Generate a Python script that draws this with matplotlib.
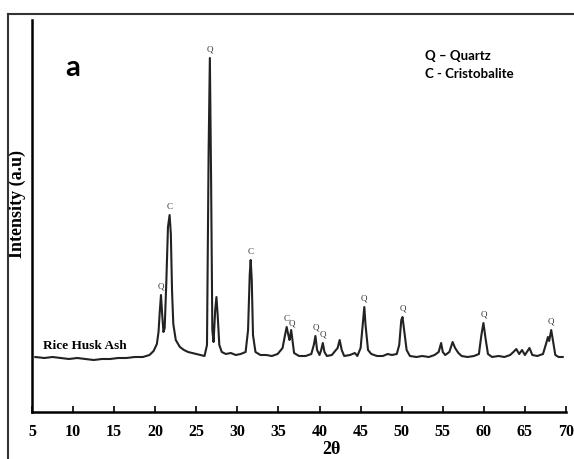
import matplotlib.pyplot as plt
from matplotlib.lines import Line2D

# XRD trace of rice husk ash (2theta, intensity a.u.)
two_theta = [5.4, 6.5, 7.5, 8.5, 9.5, 10.5, 11.5, 12.5, 13.5, 14.5, 15.5, 16.5,
             17.5, 18.5, 19.3, 19.8, 20.2, 20.4, 20.55, 20.7, 20.85, 21.0, 21.15,
             21.35, 21.55, 21.75, 21.9, 22.05, 22.2, 22.5, 23.0, 23.5, 24.0, 24.5,
             25.0, 25.5, 26.0, 26.3, 26.5, 26.65, 26.8, 26.95, 27.1, 27.3, 27.45,
             27.6, 27.8, 28.1, 28.6, 29.2, 29.8, 30.4, 31.0, 31.3, 31.5, 31.62,
             31.75, 31.9, 32.2, 32.8, 33.5, 34.2, 34.9, 35.5, 35.8, 36.0, 36.2,
             36.35, 36.55, 36.7, 36.9, 37.5, 38.3, 39.0, 39.3, 39.5, 39.7, 40.0,
             40.2, 40.4, 40.6, 40.9, 41.5, 42.2, 42.45, 42.7, 43.0, 43.7, 44.3,
             44.6, 45.0, 45.3, 45.45, 45.6, 45.9, 46.3, 47.0, 47.7, 48.3, 48.8,
             49.4, 49.7, 49.95, 50.1, 50.3, 50.6, 51.0, 51.8, 52.5, 53.3, 54.0,
             54.5, 54.8, 55.0, 55.3, 55.8, 56.2, 56.5, 56.9, 57.3, 58.0, 58.8,
             59.4, 59.7, 59.95, 60.2, 60.5, 61.0, 61.8, 62.5, 63.2, 63.6, 63.95,
             64.3, 64.65, 65.0, 65.55, 65.9, 66.5, 67.2, 67.6, 67.8, 67.95, 68.2,
             68.4, 68.7, 69.1, 69.6]
intensity = [55, 54, 55, 54, 53, 54, 53, 52, 53, 53, 54, 54,
             55, 55, 57, 61, 68, 80, 100, 117, 97, 80, 84,
             130, 185, 197, 178, 120, 88, 72, 65, 62, 60, 59,
             58, 57, 56, 67, 262, 354, 232, 82, 70, 102, 115,
             97, 67, 60, 58, 59, 57, 58, 60, 82, 137, 152,
             132, 77, 60, 57, 57, 56, 58, 64, 77, 85, 77,
             72, 82, 72, 59, 56, 56, 58, 67, 76, 62, 57,
             62, 69, 60, 56, 57, 64, 72, 62, 56, 57, 59,
             56, 64, 92, 105, 87, 62, 58, 56, 56, 58, 57,
             58, 67, 92, 95, 82, 62, 56, 55, 56, 55, 57,
             60, 69, 60, 57, 60, 70, 64, 59, 56, 55, 56,
             58, 77, 89, 74, 58, 55, 56, 55, 57, 60, 63,
             58, 62, 57, 64, 57, 56, 58, 69, 75, 71, 82,
             72, 57, 55, 55]

# phase labels above the peaks
peak_pos = [20.7, 21.75, 26.65, 31.62, 36.0, 36.6, 39.5, 40.4, 45.45, 50.1, 59.95, 68.2]
peak_phase = ['Q', 'C', 'Q', 'C', 'C', 'Q', 'Q', 'Q', 'Q', 'Q', 'Q', 'Q']
peak_top = [117, 197, 354, 152, 85, 80, 76, 69, 105, 95, 89, 82]

xticks = [5, 10, 15, 20, 25, 30, 35, 40, 45, 50, 55, 60, 65, 70]

serif = 'Liberation Serif'

fig = plt.figure(figsize=(5.74, 4.59), dpi=100)
ax = fig.add_axes([32 / 574, 47 / 459, 534 / 574, 392 / 459])

ax.plot(two_theta, intensity, color='#222222', lw=1.5)
for x, lab, top in zip(peak_pos, peak_phase, peak_top):
    ax.annotate(lab, (x, top), xytext=(0, 3), textcoords='offset points',
                ha='center', va='bottom', fontsize=6.5, family=serif, color='#333333')

ax.set_xlim(5, 70)
ax.set_ylim(0, 392)
ax.set_xticks(xticks)
ax.set_xticklabels([str(t) for t in xticks], family=serif, fontweight='bold', fontsize=11.5)
ax.set_yticks([])
ax.tick_params(axis='x', direction='in', length=4, width=1.2, pad=9)
for s in ['top', 'right']:
    ax.spines[s].set_visible(False)
ax.spines['left'].set_linewidth(1.8)
ax.spines['bottom'].set_linewidth(1.8)

ax.set_xlabel('2θ', family=serif, fontweight='bold', fontsize=13)
ax.xaxis.set_label_coords(0.56, -0.075)
ax.set_ylabel('Intensity (a.u)', family=serif, fontweight='bold', fontsize=13)
ax.yaxis.set_label_coords(-0.012, 0.53)

ax.text(6.3, 66, 'Rice Husk Ash', family=serif, fontweight='bold', fontsize=9.5, va='center')
ax.text(9.0, 344, 'a', family='Lato', fontweight='bold', fontsize=21, va='center')
ax.text(52.85, 356, 'Q – Quartz', family='Lato', fontweight='bold', fontsize=9.5, va='center')
ax.text(52.85, 338, 'C - Cristobalite', family='Lato', fontweight='bold', fontsize=9.5, va='center')

# outer frame of the panel
fig.add_artist(Line2D([8 / 574, 1], [1 - 14 / 459, 1 - 14 / 459], color='#333333', lw=1.5))
fig.add_artist(Line2D([8 / 574, 8 / 574], [0, 1 - 14 / 459], color='#333333', lw=1.5))

fig.savefig('out.png', dpi=100)
